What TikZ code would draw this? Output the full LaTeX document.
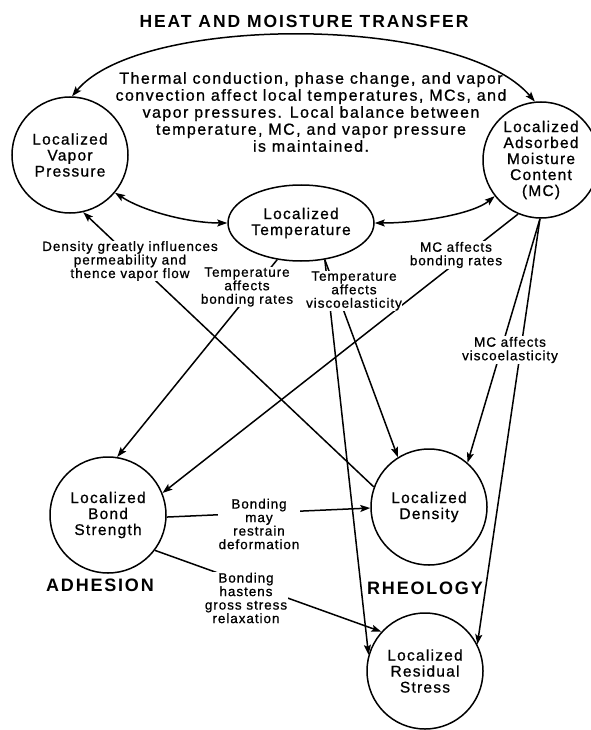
\documentclass[tikz,border=0pt]{standalone}
\usepackage{fontspec}
\setmainfont{Liberation Sans}
\newfontfamily\nodefont{Liberation Sans}[LetterSpace=8,FakeBold=0.8]
\newfontfamily\descfont{Liberation Sans}[LetterSpace=9,FakeBold=0.8]
\newfontfamily\edgefont{Liberation Sans}[LetterSpace=7,FakeBold=0.8]
\newfontfamily\headfont{Liberation Sans}[LetterSpace=11]
\newfontfamily\sectfont{Liberation Sans}[LetterSpace=10]
\usetikzlibrary{arrows.meta,shapes.geometric}
\begin{document}
\begin{tikzpicture}[x=1pt,y=-1pt,line width=1.5pt,
  circ/.style={draw,circle,minimum size=116pt,inner sep=0pt,align=center,
    font=\nodefont\fontsize{15.5}{16}\selectfont},
  ell/.style={draw,ellipse,minimum width=146pt,minimum height=76pt,inner sep=0pt,align=center,
    font=\nodefont\fontsize{15.5}{16}\selectfont},
  lab/.style={fill=white,inner sep=0.5pt,align=center,
    font=\edgefont\fontsize{13.5}{13.5}\selectfont},
  desc/.style={align=center,font=\descfont\fontsize{16}{17}\selectfont},
  head/.style={font=\headfont\bfseries\fontsize{17.5}{20}\selectfont},
  sect/.style={font=\sectfont\bfseries\fontsize{18}{20}\selectfont},
  arr/.style={-{Stealth[length=10pt,width=7pt,inset=2pt]}},
  darr/.style={{Stealth[length=10pt,width=7pt,inset=2pt]}-{Stealth[length=10pt,width=7pt,inset=2pt]}}]
\useasboundingbox (0,0) rectangle (590,730);

\node[head] (title) at (304,21) {HEAT AND MOISTURE TRANSFER};
\node[desc] (descr) at (311,112) {Thermal conduction, phase change, and vapor\\convection affect local temperatures, MCs, and\\vapor pressures. Local balance between\\temperature, MC, and vapor pressure\\is maintained.};

\node[circ] (vp) at (70,155) {Localized\\Vapor\\Pressure};
\node[circ] (mc) at (541,160) {Localized\\Adsorbed\\Moisture\\Content\\(MC)};
\node[ell] (temp) at (301,223) {Localized\\Temperature};
\node[circ] (bond) at (108,515) {Localized\\Bond\\Strength};
\node[circ] (den) at (429,507) {Localized\\Density};
\node[circ] (rs) at (425,671) {Localized\\Residual\\Stress};

\node[sect] (adh) at (100,585) {ADHESION};
\node[sect] (rheo) at (425,588) {RHEOLOGY};

% connectors
\draw[darr] (vp.88) .. controls (140,14) and (460,14) .. (mc.96);
\draw[darr] (vp.-40) .. controls (145,212) and (190,223) .. (temp.west);
\draw[darr] (temp.east) .. controls (420,223) and (473,214) .. (mc.218);
\draw[arr] (den.160) -- (vp.-77);
\draw[arr] (temp.-123) -- (bond.81);
\draw[arr] (temp.-57) -- (den.122);
\draw[arr] (temp.-57) -- (rs.164);
\draw[arr] (mc.-113) -- (bond.22);
\draw[arr] (mc.-91) -- (den.49);
\draw[arr] (mc.-91) -- (rs.27);
\draw[arr] (bond.-2) -- (den.181);
\draw[arr] (bond.-37) -- (rs.138);

% labels
\node[lab] (l1) at (130,261) {Density greatly influences\\permeability and\\thence vapor flow};
\node[lab] (l2) at (247,287) {Temperature\\affects\\bonding rates};
\node[lab] (l3) at (354,291) {Temperature\\affects\\viscoelasticity};
\node[lab] (l4) at (456,255) {MC affects\\bonding rates};
\node[lab] (l5) at (510,350) {MC affects\\viscoelasticity};
\node[lab] (l6) at (259,524) {Bonding\\may\\restrain\\deformation};
\node[lab] (l7) at (246,598) {Bonding\\hastens\\gross stress\\relaxation};
\end{tikzpicture}
\end{document}
